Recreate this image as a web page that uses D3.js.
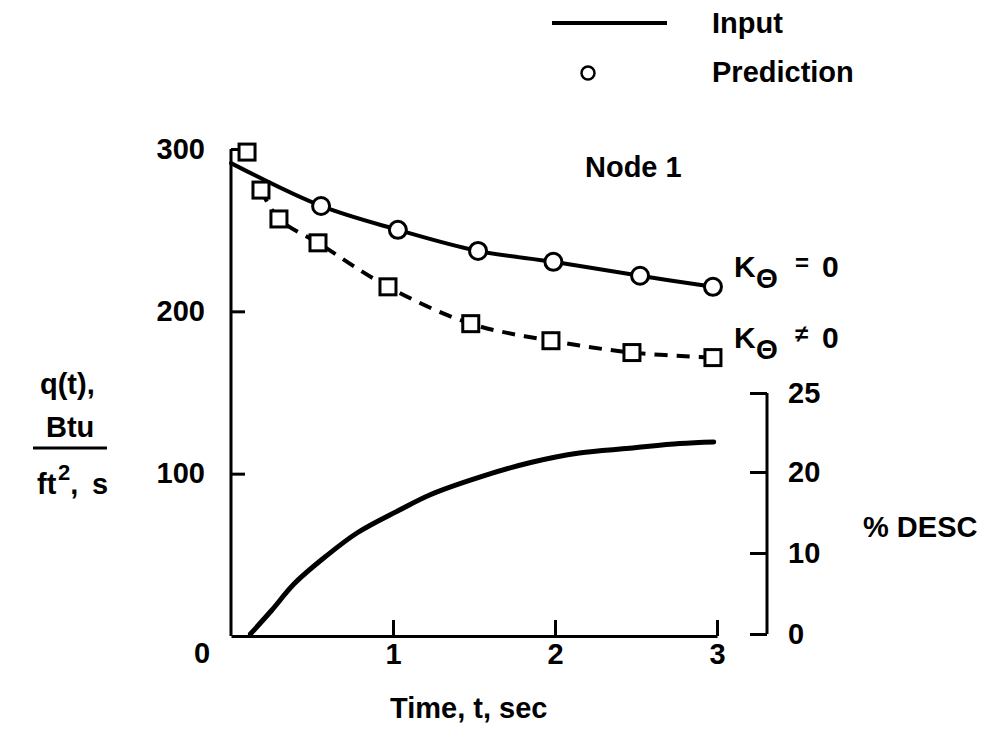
<!DOCTYPE html>
<html>
<head>
<meta charset="utf-8">
<script src="https://cdn.jsdelivr.net/npm/d3@7"></script>
<style>
  html, body { margin: 0; padding: 0; background: #fff; }
  svg text { font-family: "Liberation Sans", Arial, Helvetica, sans-serif; font-weight: bold; fill: #000; }
</style>
</head>
<body>
<svg id="chart" width="999" height="746"></svg>
<script>
// ---------------- data ----------------
const xTicks = [1, 2, 3];
const yTicks = [100, 200, 300];
const descTicks = [0, 10, 20, 25];

// K_theta = 0 : solid line through circles (input line)
const inputT = [0, 0.556, 1.03, 1.525, 1.99, 2.525, 2.975];
const inputQ = [291.3, 264.9, 250.2, 237.2, 230.5, 221.9, 215.1];

// prediction circles (K_theta = 0)
const circleT = [0.556, 1.03, 1.525, 1.99, 2.525, 2.975];
const circleQ = [264.9, 250.2, 237.2, 230.5, 221.9, 215.1];

// K_theta != 0 : squares and dashed line
const squareT = [0.099, 0.185, 0.296, 0.537, 0.969, 1.48, 1.975, 2.475, 2.975];
const squareQ = [298.1, 274.7, 256.9, 242.2, 215.1, 192.4, 181.9, 174.6, 171.5];
const dashT = [0.185, 0.296, 0.537, 0.969, 1.48, 1.975, 2.475, 2.975];
const dashQ = [274.7, 256.9, 242.2, 215.1, 192.4, 181.9, 174.6, 171.5];

// % DESC curve (right axis)
const descT = [0.12, 0.25, 0.39, 0.58, 0.78, 1.04, 1.23, 1.54, 1.85, 2.15, 2.46, 2.77, 2.98];
const descV = [0, 2.9, 6.2, 9.5, 12.5, 15.3, 17.2, 19.4, 20.6, 21.2, 21.5, 21.8, 21.9];

// ---------------- scales ----------------
const svg = d3.select("#chart");
const x = d3.scaleLinear().domain([0, 3]).range([231, 717]);
const y = d3.scaleLinear().domain([0, 300]).range([636, 149]);
// right axis is hand-drawn with uneven spacing in the original
const yR = d3.scaleLinear().domain([0, 10, 20, 25]).range([634, 553, 472, 393]);

const FS = 29;

// ---------------- axes ----------------
function styleAxis(g) {
  g.select(".domain").attr("stroke", "#000").attr("stroke-width", 3).attr("fill", "none");
  g.selectAll(".tick line").attr("stroke", "#000").attr("stroke-width", 3);
  g.selectAll(".tick text").attr("font-size", FS)
    .attr("font-family", '"Liberation Sans", Arial, sans-serif').attr("font-weight", "bold").attr("fill", "#000");
}

const gLeft = svg.append("g").attr("transform", `translate(${x(0)},0)`)
  .call(d3.axisLeft(y).tickValues(yTicks).tickSize(-14).tickSizeOuter(0).tickPadding(26));
styleAxis(gLeft);
gLeft.select(".domain").attr("d", `M0,${y(300)}V${y(0)}`);

const gBottom = svg.append("g").attr("transform", `translate(0,${y(0)})`)
  .call(d3.axisBottom(x).tickValues(xTicks).tickFormat(d3.format("d"))
    .tickSize(-16).tickSizeOuter(0).tickPadding(7));
styleAxis(gBottom);
gBottom.selectAll(".tick text").attr("dy", "0.71em");

const gRight = svg.append("g").attr("transform", `translate(767,0)`)
  .call(d3.axisRight(yR).tickValues(descTicks).tickSize(-17).tickSizeOuter(0).tickPadding(21));
styleAxis(gRight);
gRight.select(".domain").attr("d", `M0,${yR(25)}V${yR(0)}`);

// origin label
svg.append("text").attr("x", 202).attr("y", 663).attr("text-anchor", "middle")
  .attr("font-size", FS).text("0");

// ---------------- lines ----------------
const line = d3.line().curve(d3.curveCatmullRom.alpha(0.5));

svg.append("path")
  .attr("d", line(inputT.map((t, i) => [x(t), y(inputQ[i])])))
  .attr("fill", "none").attr("stroke", "#000").attr("stroke-width", 4).attr("stroke-linecap", "round");

svg.append("path")
  .attr("d", line(dashT.map((t, i) => [x(t), y(dashQ[i])])))
  .attr("fill", "none").attr("stroke", "#000").attr("stroke-width", 4)
  .attr("stroke-dasharray", "13,9");

svg.append("path")
  .attr("d", line(descT.map((t, i) => [x(t), yR(descV[i])])))
  .attr("fill", "none").attr("stroke", "#000").attr("stroke-width", 5).attr("stroke-linecap", "round");

// ---------------- markers ----------------
svg.append("g").selectAll("circle").data(circleT).join("circle")
  .attr("cx", d => x(d)).attr("cy", (d, i) => y(circleQ[i])).attr("r", 8.5)
  .attr("fill", "#fff").attr("stroke", "#000").attr("stroke-width", 3);

const sq = 16;
svg.append("g").selectAll("rect").data(squareT).join("rect")
  .attr("x", d => x(d) - sq / 2).attr("y", (d, i) => y(squareQ[i]) - sq / 2)
  .attr("width", sq).attr("height", sq)
  .attr("fill", "#fff").attr("stroke", "#000").attr("stroke-width", 3);

// ---------------- legend ----------------
svg.append("line").attr("x1", 552).attr("x2", 667).attr("y1", 23).attr("y2", 23)
  .attr("stroke", "#000").attr("stroke-width", 4);
svg.append("text").attr("x", 712).attr("y", 33).attr("font-size", FS).text("Input");
svg.append("circle").attr("cx", 588).attr("cy", 73).attr("r", 6.5)
  .attr("fill", "#fff").attr("stroke", "#000").attr("stroke-width", 2.5);
svg.append("text").attr("x", 712).attr("y", 82).attr("font-size", FS).text("Prediction");

// ---------------- annotations ----------------
svg.append("text").attr("x", 585).attr("y", 177).attr("font-size", FS).text("Node 1");

function kLabel(yb, rel) {
  const t = svg.append("text").attr("y", yb).attr("font-size", 30);
  t.append("tspan").attr("x", 734).text("K");
  t.append("tspan").attr("x", 756).attr("dy", 11).attr("font-size", 28).text("Θ");
  t.append("tspan").attr("x", 795).attr("dy", -17).attr("font-size", 24).text(rel);
  t.append("tspan").attr("x", 822).attr("dy", 6).text("0");
}
kLabel(277, "=");
kLabel(348, "≠");

svg.append("text").attr("x", 863).attr("y", 537).attr("font-size", FS).text("% DESC");

// y-axis title
svg.append("text").attr("x", 40).attr("y", 394).attr("font-size", FS).text("q(t),");
svg.append("text").attr("x", 46).attr("y", 437).attr("font-size", FS).text("Btu");
svg.append("line").attr("x1", 33).attr("x2", 107).attr("y1", 448).attr("y2", 448)
  .attr("stroke", "#000").attr("stroke-width", 3);
const ft = svg.append("text").attr("y", 494).attr("font-size", FS);
ft.append("tspan").attr("x", 37).text("ft");
ft.append("tspan").attr("x", 58).attr("dy", -14).attr("font-size", 22).text("2");
ft.append("tspan").attr("dy", 14).text(",");
ft.append("tspan").attr("x", 92).text("s");

// x-axis title
svg.append("text").attr("x", 390).attr("y", 718).attr("font-size", FS).text("Time, t, sec");
</script>
</body>
</html>
